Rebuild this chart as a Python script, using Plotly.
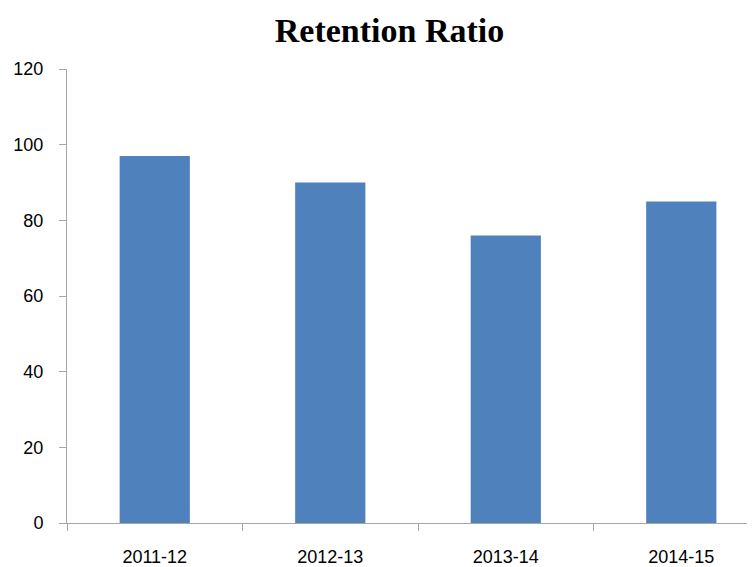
import plotly.graph_objects as go

categories = ["2011-12", "2012-13", "2013-14", "2014-15"]
values = [97, 90, 76, 85]
y_ticks = [0, 20, 40, 60, 80, 100, 120]

# page body has an 8px margin; figure is sized so it fills the 755x567 window
W, H = 747, 559

fig = go.Figure(go.Bar(x=categories, y=values, marker=dict(color="#4F81BD", line=dict(width=0))))

fig.update_layout(
    width=W, height=H,
    margin=dict(l=59, r=0, t=61, b=41),
    paper_bgcolor="white", plot_bgcolor="white",
    bargap=0.6,
    showlegend=False,
    title=dict(text="<b>Retention Ratio</b>", font=dict(family="Liberation Serif", size=34, color="black"),
               x=381.5/W, xanchor="center", xref="container",
               y=1-22/H, yanchor="middle", yref="container"),
)
fig.update_xaxes(
    type="category", range=[-0.5, 3.42],
    showline=True, linecolor="#A6A6A6", linewidth=1,
    ticks="outside", tickson="boundaries", ticklen=7, tickcolor="#A6A6A6",
    tickfont=dict(family="Liberation Sans", size=18, color="black"),
    ticklabelstandoff=17,
    showgrid=False, zeroline=False,
)
fig.update_yaxes(
    range=[0, 120], tickvals=y_ticks,
    showline=True, linecolor="#A6A6A6", linewidth=1,
    ticks="outside", ticklen=7, tickcolor="#A6A6A6",
    tickfont=dict(family="Liberation Sans", size=18, color="black"),
    ticklabelstandoff=12,
    showgrid=False, zeroline=False,
)

fig.write_html("out.html")
